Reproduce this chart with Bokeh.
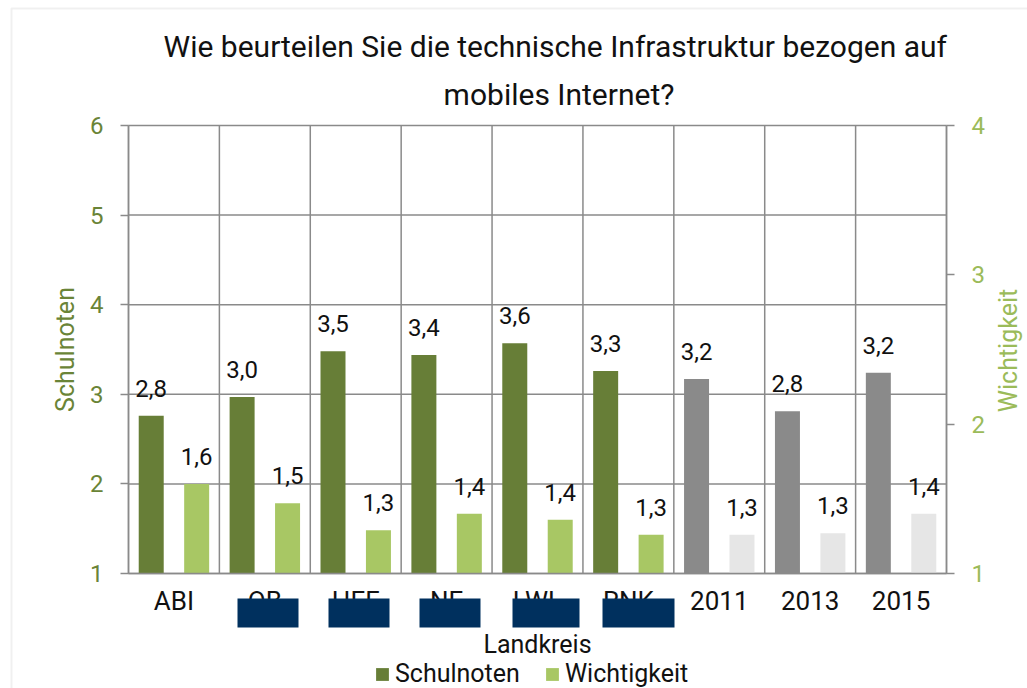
import math
from bokeh.plotting import figure
from bokeh.models import (Range1d, LinearAxis, FixedTicker, ColumnDataSource, LabelSet, Label,
                          Legend, LegendItem, BoxAnnotation)
from bokeh.core.properties import value
from bokeh.embed import file_html
from bokeh.resources import INLINE

# ---- data ----
categories = ["ABI", "OB", "HEF", "NE", "LWL", "RNK", "2011", "2013", "2015"]
schulnoten = [2.76, 2.97, 3.48, 3.44, 3.57, 3.26, 3.17, 2.81, 3.24]
wichtigkeit = [1.60, 1.47, 1.29, 1.40, 1.36, 1.26, 1.26, 1.27, 1.40]
is_year = [False, False, False, False, False, False, True, True, True]
schul_ticks = [1, 2, 3, 4, 5, 6]
wicht_ticks = [1, 2, 3, 4]
title_lines = ["Wie beurteilen Sie  die technische Infrastruktur bezogen auf", "mobiles Internet?"]

FONT = "Roboto"
GRID = "#8a8a8a"
DARK = "#677e37"
LIGHT = "#a8c764"
GREY = "#8a8a8a"
LIGHTGREY = "#e6e6e6"
OLIVE_TXT = "#6a8437"
GREEN_TXT = "#9bbb59"
TXT = "#111111"

# ---- layout (pixels) ----
W, H = 1027, 688
FL, FR, FT, FB = 128, 946, 125, 573   # plot area edges

n = len(categories)
xs = (FR - FL) / n
ys = (FB - FT) / (schul_ticks[-1] - schul_ticks[0])
ws = (FB - FT) / (wicht_ticks[-1] - wicht_ticks[0])


def px2x(px):
    return (px - FL) / xs


def px2y(py):
    return schul_ticks[0] + (FB - py) / ys


centers = [i + 0.5 for i in range(n)]
OFF = 0.25
BW = 0.275


def fmt(v):
    return f"{v:.1f}".replace(".", ",")


src_s = ColumnDataSource(dict(
    x=[c - OFF for c in centers], top=schulnoten,
    color=[GREY if y else DARK for y in is_year],
    label=[fmt(v) for v in schulnoten]))
src_w = ColumnDataSource(dict(
    x=[c + OFF for c in centers], top=wichtigkeit,
    color=[LIGHTGREY if y else LIGHT for y in is_year],
    label=[fmt(v) for v in wichtigkeit]))

p = figure(width=W, height=H, output_backend="svg", toolbar_location=None, title="",
           x_range=Range1d(-FL / xs, n + (W - FR) / xs),
           y_range=Range1d(schul_ticks[0] - (H - FB) / ys, schul_ticks[-1] + FT / ys),
           min_border_left=0, min_border_right=0, min_border_top=0, min_border_bottom=0,
           outline_line_color=None, background_fill_color="white", border_fill_color="white")
p.extra_y_ranges = {"w": Range1d(wicht_ticks[0] - (H - FB) / ws, wicht_ticks[-1] + FT / ws)}
p.xgrid.visible = False
p.ygrid.visible = False

# grid lines limited to the plot area
gx = list(range(n + 1))
p.segment(x0=gx, x1=gx, y0=[schul_ticks[0]] * len(gx), y1=[schul_ticks[-1]] * len(gx),
          line_color=GRID, line_width=1.5, level="underlay")
p.segment(x0=[0] * len(schul_ticks), x1=[n] * len(schul_ticks), y0=schul_ticks, y1=schul_ticks,
          line_color=GRID, line_width=1.5, level="underlay")

# x axis
ax = p.xaxis[0]
ax.fixed_location = schul_ticks[0]
ax.bounds = (0, n)
ax.ticker = FixedTicker(ticks=centers)
ax.major_label_overrides = {c: cat for c, cat in zip(centers, categories)}
ax.major_tick_out = 0
ax.major_tick_in = 0
ax.minor_tick_out = 0
ax.minor_tick_in = 0
ax.axis_line_color = GRID
ax.axis_line_width = 1.5
ax.major_label_text_font = FONT
ax.major_label_text_font_size = "26px"
ax.major_label_text_color = TXT
ax.major_label_standoff = 12
ax.axis_label = "Landkreis"
ax.axis_label_text_font = FONT
ax.axis_label_text_font_size = "25px"
ax.axis_label_text_font_style = "normal"
ax.axis_label_text_color = TXT
ax.axis_label_standoff = 11

# left axis
ay = p.yaxis[0]
ay.fixed_location = 0
ay.bounds = (schul_ticks[0], schul_ticks[-1])
ay.ticker = FixedTicker(ticks=schul_ticks)
ay.axis_line_color = GRID
ay.axis_line_width = 1.5
ay.major_tick_out = 8
ay.major_tick_in = 0
ay.minor_tick_out = 0
ay.minor_tick_in = 0
ay.major_tick_line_color = GRID
ay.major_tick_line_width = 1.5
ay.major_label_text_font = FONT
ay.major_label_text_font_size = "24px"
ay.major_label_text_color = OLIVE_TXT
ay.major_label_standoff = 17

# right axis
ar = LinearAxis(y_range_name="w", ticker=FixedTicker(ticks=wicht_ticks))
ar.fixed_location = n
ar.bounds = (wicht_ticks[0], wicht_ticks[-1])
ar.axis_line_color = GRID
ar.axis_line_width = 1.5
ar.major_tick_out = 8
ar.major_tick_in = 0
ar.minor_tick_out = 0
ar.minor_tick_in = 0
ar.major_tick_line_color = GRID
ar.major_tick_line_width = 1.5
ar.major_label_text_font = FONT
ar.major_label_text_font_size = "24px"
ar.major_label_text_color = GREEN_TXT
ar.major_label_standoff = 17
p.add_layout(ar, "right")

# axis titles (rotated, reading bottom to top)
for txt, cx, cy, col in (("Schulnoten", 65, 349, OLIVE_TXT), ("Wichtigkeit", 1008, 350, GREEN_TXT)):
    p.add_layout(Label(x=px2x(cx), y=px2y(cy), text=txt, angle=math.pi / 2,
                       text_align="center", text_baseline="middle", text_font=FONT,
                       text_font_size="25px", text_color=col))

# bars
rs = p.vbar(x="x", top="top", bottom=schul_ticks[0], width=BW, fill_color="color",
            line_color=None, source=src_s)
rw = p.vbar(x="x", top="top", bottom=wicht_ticks[0], width=BW, fill_color="color",
            line_color=None, source=src_w, y_range_name="w")

# value labels
for src, rng in ((src_s, "default"), (src_w, "w")):
    p.add_layout(LabelSet(x="x", y="top", text="label", source=src, y_range_name=rng,
                          text_align="center", text_baseline="alphabetic", y_offset=19,
                          text_font=value(FONT), text_font_size=value("24px"),
                          text_color=value(TXT)))

# title (two lines)
for line, cy in zip(title_lines, (46, 94)):
    p.add_layout(Label(x=px2x(558.5), y=px2y(cy), text=line, text_align="center",
                       text_baseline="alphabetic", text_font=FONT, text_font_size="30px",
                       text_color=TXT))

# legend
legend = Legend(items=[LegendItem(label="Schulnoten", renderers=[rs], index=0),
                       LegendItem(label="Wichtigkeit", renderers=[rw], index=0)],
                location=(374, 0), orientation="horizontal", padding=0, margin=0,
                spacing=24, label_standoff=5, glyph_width=16, glyph_height=16,
                label_text_font=FONT, label_text_font_size="25px", label_text_color=TXT,
                background_fill_alpha=0, border_line_color=None)
p.add_layout(legend)

# navy cover boxes over some category labels
covers_px = [(237, 298), (328, 389), (419, 480), (512, 579), (602, 674)]
for l, r in covers_px:
    p.add_layout(BoxAnnotation(left=px2x(l), right=px2x(r), top=px2y(598), bottom=px2y(627),
                               fill_color="#00305e", fill_alpha=1, line_color=None))

# outer light frame (top and left edges visible)
p.add_layout(BoxAnnotation(left=px2x(11), right=px2x(W + 20), top=px2y(8), bottom=px2y(H + 20),
                           fill_color=None, line_color="#cccccc", line_width=2))

open("out.html", "w").write(file_html(p, INLINE))
